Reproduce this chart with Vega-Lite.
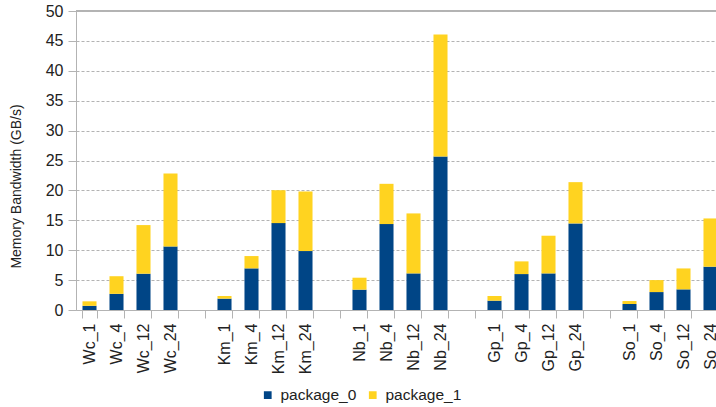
{
  "$schema": "https://vega.github.io/schema/vega-lite/v6.json",
  "autosize": {"type": "none"},
  "width": 640,
  "height": 299,
  "padding": {"left": 76, "top": 11, "right": 0, "bottom": 97},
  "background": "white",
  "config": {
    "font": "Liberation Sans",
    "view": {"stroke": null}
  },
  "data": {
    "values": [
      {"cat": "Wc_1", "pkg": "package_0", "v": 0.7}, {"cat": "Wc_1", "pkg": "package_1", "v": 0.75},
      {"cat": "Wc_4", "pkg": "package_0", "v": 2.7}, {"cat": "Wc_4", "pkg": "package_1", "v": 2.95},
      {"cat": "Wc_12", "pkg": "package_0", "v": 6.07}, {"cat": "Wc_12", "pkg": "package_1", "v": 8.13},
      {"cat": "Wc_24", "pkg": "package_0", "v": 10.63}, {"cat": "Wc_24", "pkg": "package_1", "v": 12.2},
      {"cat": "Km_1", "pkg": "package_0", "v": 1.9}, {"cat": "Km_1", "pkg": "package_1", "v": 0.44},
      {"cat": "Km_4", "pkg": "package_0", "v": 6.96}, {"cat": "Km_4", "pkg": "package_1", "v": 2.06},
      {"cat": "Km_12", "pkg": "package_0", "v": 14.53}, {"cat": "Km_12", "pkg": "package_1", "v": 5.5},
      {"cat": "Km_24", "pkg": "package_0", "v": 9.86}, {"cat": "Km_24", "pkg": "package_1", "v": 9.96},
      {"cat": "Nb_1", "pkg": "package_0", "v": 3.4}, {"cat": "Nb_1", "pkg": "package_1", "v": 2.0},
      {"cat": "Nb_4", "pkg": "package_0", "v": 14.37}, {"cat": "Nb_4", "pkg": "package_1", "v": 6.73},
      {"cat": "Nb_12", "pkg": "package_0", "v": 6.12}, {"cat": "Nb_12", "pkg": "package_1", "v": 10.03},
      {"cat": "Nb_24", "pkg": "package_0", "v": 25.67}, {"cat": "Nb_24", "pkg": "package_1", "v": 20.38},
      {"cat": "Gp_1", "pkg": "package_0", "v": 1.56}, {"cat": "Gp_1", "pkg": "package_1", "v": 0.78},
      {"cat": "Gp_4", "pkg": "package_0", "v": 6.01}, {"cat": "Gp_4", "pkg": "package_1", "v": 2.12},
      {"cat": "Gp_12", "pkg": "package_0", "v": 6.12}, {"cat": "Gp_12", "pkg": "package_1", "v": 6.3},
      {"cat": "Gp_24", "pkg": "package_0", "v": 14.48}, {"cat": "Gp_24", "pkg": "package_1", "v": 6.9},
      {"cat": "So_1", "pkg": "package_0", "v": 1.0}, {"cat": "So_1", "pkg": "package_1", "v": 0.5},
      {"cat": "So_4", "pkg": "package_0", "v": 3.0}, {"cat": "So_4", "pkg": "package_1", "v": 2.0},
      {"cat": "So_12", "pkg": "package_0", "v": 3.45}, {"cat": "So_12", "pkg": "package_1", "v": 3.5},
      {"cat": "So_24", "pkg": "package_0", "v": 7.24}, {"cat": "So_24", "pkg": "package_1", "v": 8.07}
    ]
  },
  "layer": [
    {
      "mark": {"type": "bar"},
      "encoding": {
        "x": {
          "field": "cat",
          "type": "nominal",
          "sort": null,
          "scale": {
            "domain": ["Wc_1", "Wc_4", "Wc_12", "Wc_24", "_g1", "Km_1", "Km_4", "Km_12", "Km_24", "_g2", "Nb_1", "Nb_4", "Nb_12", "Nb_24", "_g3", "Gp_1", "Gp_4", "Gp_12", "Gp_24", "_g4", "So_1", "So_4", "So_12", "So_24"],
            "range": [0, 648],
            "paddingInner": 0.48,
            "paddingOuter": 0.24
          },
          "axis": {
            "title": null,
            "labelAngle": -90,
            "labelFontSize": 16,
            "labelColor": "#222222",
            "labelPadding": 5,
            "labelOverlap": false,
            "labelExpr": "indexof(datum.label, '_g') == 0 ? '' : datum.label",
            "tickBand": "extent",
            "tickSize": 8,
            "tickColor": "#b3b3b3",
            "domainColor": "#b3b3b3",
            "grid": false
          }
        },
        "y": {
          "field": "v",
          "type": "quantitative",
          "aggregate": "sum",
          "stack": "zero",
          "scale": {"domain": [0, 50], "nice": false},
          "axis": {
            "title": "Memory Bandwidth (GB/s)",
            "titleFontSize": 14,
            "titleFontWeight": "normal",
            "titleColor": "#222222",
            "titlePadding": 22,
            "titleY": 175,
            "labelFontSize": 16,
            "labelColor": "#222222",
            "labelPadding": 5,
            "labelOverlap": false,
            "values": [0, 5, 10, 15, 20, 25, 30, 35, 40, 45, 50],
            "tickSize": 8,
            "tickColor": "#b3b3b3",
            "domainColor": "#b3b3b3",
            "grid": true,
            "gridColor": "#b3b3b3",
            "gridDash": [3, 2]
          }
        },
        "color": {
          "field": "pkg",
          "type": "nominal",
          "scale": {"domain": ["package_0", "package_1"], "range": ["#004586", "#ffd320"]},
          "legend": {
            "title": null,
            "orient": "none",
            "direction": "horizontal",
            "legendX": 184,
            "legendY": 376,
            "symbolType": "square",
            "symbolSize": 60,
            "symbolStrokeWidth": 0,
            "labelFontSize": 15.5,
            "labelColor": "#222222",
            "labelOffset": 5,
            "columnPadding": 8
          }
        },
        "order": {"field": "pkg", "sort": "ascending"}
      }
    },
    {
      "mark": {"type": "rule", "color": "#b3b3b3", "strokeWidth": 1},
      "encoding": {
        "y": {
          "datum": 50,
          "type": "quantitative",
          "axis": {
            "title": "Memory Bandwidth (GB/s)",
            "titleFontSize": 14,
            "titleFontWeight": "normal",
            "titleColor": "#222222",
            "titlePadding": 22,
            "titleY": 175,
            "labelFontSize": 16,
            "labelColor": "#222222",
            "labelPadding": 5,
            "labelOverlap": false,
            "values": [0, 5, 10, 15, 20, 25, 30, 35, 40, 45, 50],
            "tickSize": 8,
            "tickColor": "#b3b3b3",
            "domainColor": "#b3b3b3",
            "grid": true,
            "gridColor": "#b3b3b3",
            "gridDash": [3, 2]
          }
        }
      }
    }
  ]
}
